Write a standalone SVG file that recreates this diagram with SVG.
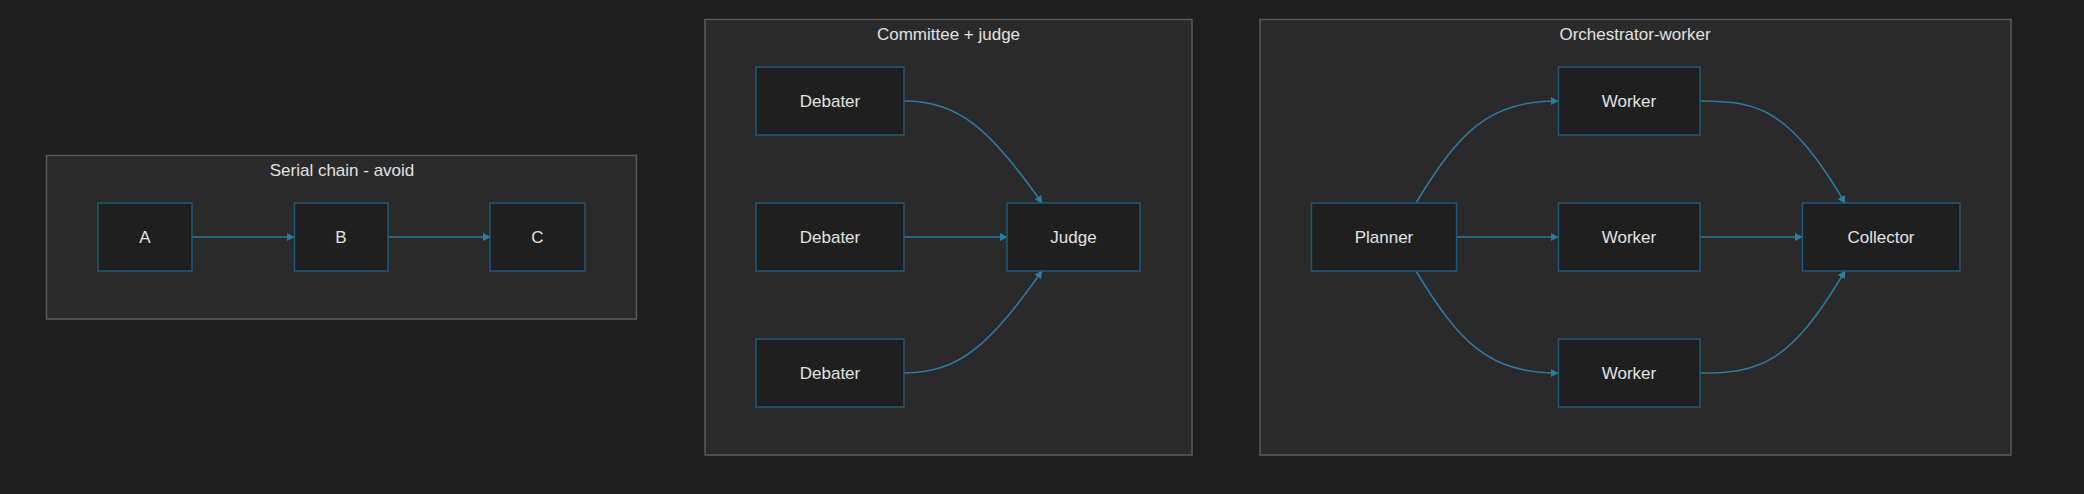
<svg xmlns="http://www.w3.org/2000/svg" width="2084" height="494" viewBox="0 0 2084 494">
<defs>
<marker id="arr" viewBox="0 0 10 10" refX="9" refY="5" markerWidth="8" markerHeight="8" markerUnits="userSpaceOnUse" orient="auto"><path d="M0,0 L10,5 L0,10 z" fill="#2b7ca3"/></marker>
<style>
.cl{fill:#2a2a2a;stroke:#5a5a5a;stroke-width:1.5}
.nd{fill:#1f1f1f;stroke:#1f5a78;stroke-width:1.5}
.t{font-family:"Liberation Sans",Arial,sans-serif;font-size:17px;fill:#e2e2e2;text-anchor:middle;dominant-baseline:central}
.e{fill:none;stroke:#2b7ca3;stroke-width:1.5;marker-end:url(#arr)}
</style>
</defs>
<rect width="2084" height="494" fill="#1e1e1e"/>
<g id="cluster-serial"><rect class="cl" x="46.5" y="155.5" width="590" height="163.5"/><text class="t" x="342" y="170">Serial chain - avoid</text></g>
<g id="cluster-committee"><rect class="cl" x="705" y="19.5" width="487" height="435.5"/><text class="t" x="948.5" y="34">Committee + judge</text></g>
<g id="cluster-orch"><rect class="cl" x="1260" y="19.5" width="751" height="435.5"/><text class="t" x="1635" y="34">Orchestrator-worker</text></g>
<g id="edges">
<path class="e" d="M192,237 L294,237"/>
<path class="e" d="M388,237 L490,237"/>
<path class="e" d="M904,101 C960,101 990,130 1042,203"/>
<path class="e" d="M904,237 L1007,237"/>
<path class="e" d="M904,373 C960,373 990,344 1042,271"/>
<path class="e" d="M1416,203 C1460,130 1490,101 1558,101"/>
<path class="e" d="M1456,237 L1558,237"/>
<path class="e" d="M1416,271 C1460,344 1490,373 1558,373"/>
<path class="e" d="M1700,101 C1760,101 1790,110 1845,203"/>
<path class="e" d="M1700,237 L1802,237"/>
<path class="e" d="M1700,373 C1760,373 1790,364 1845,271"/>
</g>
<g id="A"><rect class="nd" x="98" y="203" width="94" height="68"/><text class="t" x="145" y="237">A</text></g>
<g id="B"><rect class="nd" x="294.5" y="203" width="93.5" height="68"/><text class="t" x="341" y="237">B</text></g>
<g id="C"><rect class="nd" x="490" y="203" width="95" height="68"/><text class="t" x="537.5" y="237">C</text></g>
<g id="D1"><rect class="nd" x="756" y="67" width="148" height="68"/><text class="t" x="830" y="101">Debater</text></g>
<g id="D2"><rect class="nd" x="756" y="203" width="148" height="68"/><text class="t" x="830" y="237">Debater</text></g>
<g id="D3"><rect class="nd" x="756" y="339" width="148" height="68"/><text class="t" x="830" y="373">Debater</text></g>
<g id="Judge"><rect class="nd" x="1007" y="203" width="133" height="68"/><text class="t" x="1073.5" y="237">Judge</text></g>
<g id="Planner"><rect class="nd" x="1311.5" y="203" width="145" height="68"/><text class="t" x="1384" y="237">Planner</text></g>
<g id="W1"><rect class="nd" x="1558.5" y="67" width="141.5" height="68"/><text class="t" x="1629" y="101">Worker</text></g>
<g id="W2"><rect class="nd" x="1558.5" y="203" width="141.5" height="68"/><text class="t" x="1629" y="237">Worker</text></g>
<g id="W3"><rect class="nd" x="1558.5" y="339" width="141.5" height="68"/><text class="t" x="1629" y="373">Worker</text></g>
<g id="Collector"><rect class="nd" x="1802.5" y="203" width="157.5" height="68"/><text class="t" x="1881" y="237">Collector</text></g>
</svg>
